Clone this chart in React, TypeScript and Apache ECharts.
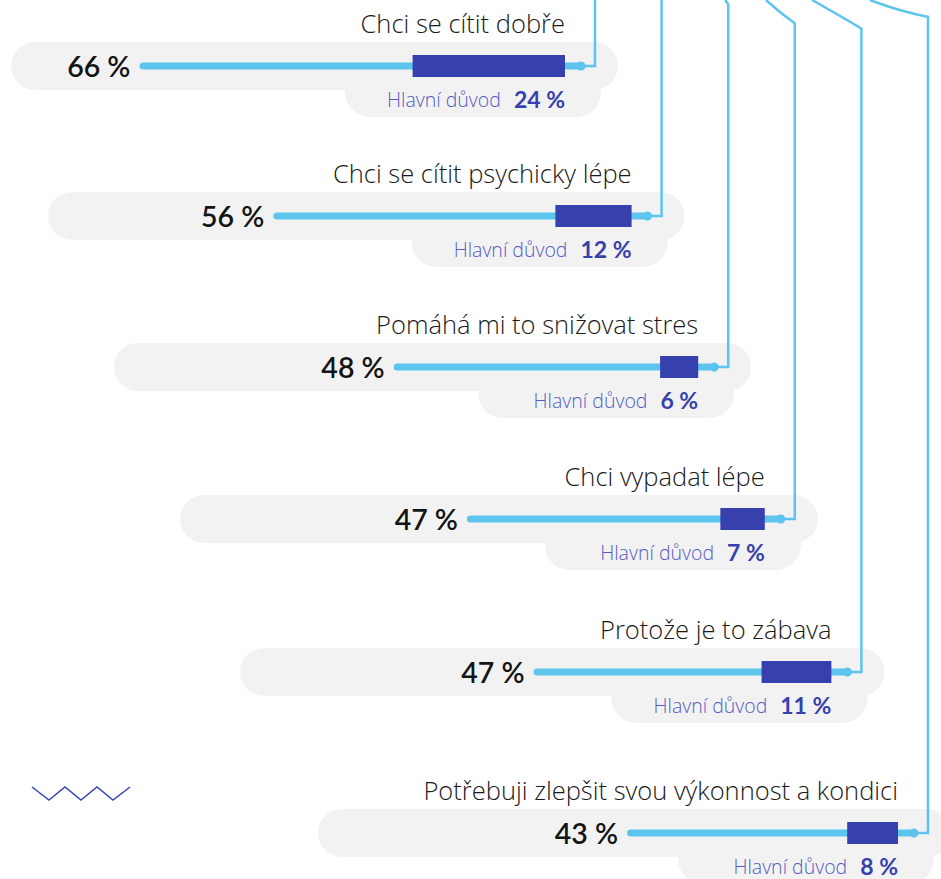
import React, { useEffect, useRef } from 'react';
import * as echarts from 'echarts';

// ---- data ----
const categories = [
  'Chci se cítit dobře',
  'Chci se cítit psychicky lépe',
  'Pomáhá mi to snižovat stres',
  'Chci vypadat lépe',
  'Protože je to zábava',
  'Potřebuji zlepšit svou výkonnost a kondici',
];
const allReasons = [66, 56, 48, 47, 47, 43];
const mainReasons = [24, 12, 6, 7, 11, 8];
const mainReasonLabel = 'Hlavní důvod';

// ---- layout ----
const W = 941;
const H = 879;
const ROW_Y = [66, 216, 367, 519, 672, 833];
const PILL_LEFT = [11, 48, 114, 180, 240, 318];
const LINE_END_0 = 583;
const LINE_STEP = 66.6;
const LINE_PX = 6.72;
const RECT_PX = 6.35;
const AXIS_MAX = 80;
const LIGHT = '#5dc4ee';
const DARK = '#3741ad';
const GREY = '#f2f2f2';
const FONT = 'Lato';
const FONT_LIGHT = 'Open Sans';
// top ends of connector lines for rows 3..6: [x0, y0, cpx, cpy, x1, y1]
const TOP_CURVES: (number[] | null)[] = [
  null,
  null,
  [725, 0, 727, 2, 728.6, 5],
  [766, 0, 779, 12, 795.6, 24],
  [812, 0, 829, 9.5, 862.2, 29],
  [870, 0, 900, 11.5, 928.8, 17],
];

export default function App() {
  const ref = useRef<HTMLDivElement>(null);
  useEffect(() => {
    const chart = echarts.init(ref.current!, null, { renderer: 'svg', width: W, height: H });
    const grid: any[] = [];
    const xAxis: any[] = [];
    const yAxis: any[] = [];
    const series: any[] = [];
    const pills: any[] = [];
    const lines: any[] = [];

    categories.forEach((cat, i) => {
      const cy = ROW_Y[i];
      const end = LINE_END_0 + LINE_STEP * i;
      const rectRight = end - 18;
      const connX = end + 12;

      pills.push({
        type: 'rect',
        shape: { x: PILL_LEFT[i], y: cy - 24, width: end + 35 - PILL_LEFT[i], height: 48, r: 24 },
        style: { fill: GREY },
      });
      pills.push({
        type: 'rect',
        shape: { x: rectRight - 220, y: cy - 10, width: 256, height: 61, r: 25 },
        style: { fill: GREY },
      });

      const curve = TOP_CURVES[i];
      const topY = curve ? curve[5] : 0;
      lines.push({
        type: 'polyline',
        shape: { points: [[connX, topY], [connX, cy], [end, cy]] },
        style: { stroke: LIGHT, lineWidth: 2.5, fill: 'none' },
      });
      if (curve) {
        lines.push({
          type: 'bezierCurve',
          shape: { x1: curve[0], y1: curve[1], cpx1: curve[2], cpy1: curve[3], x2: curve[4], y2: curve[5] },
          style: { stroke: LIGHT, lineWidth: 2.5, fill: 'none' },
        });
      }
      lines.push({
        type: 'circle',
        shape: { cx: end - 2, cy, r: 4.5 },
        style: { fill: LIGHT },
      });

      // grid for the full line
      const gl = grid.length;
      grid.push({ left: end - AXIS_MAX * LINE_PX, top: cy - 20, width: AXIS_MAX * LINE_PX, height: 40 });
      xAxis.push({ gridIndex: gl, type: 'value', min: 0, max: AXIS_MAX, inverse: true, show: false });
      yAxis.push({ gridIndex: gl, type: 'category', data: [cat], show: false });
      series.push({
        type: 'bar',
        xAxisIndex: gl,
        yAxisIndex: gl,
        data: [allReasons[i]],
        barWidth: 7,
        itemStyle: { color: LIGHT, borderRadius: 3.5 },
        label: {
          show: true,
          position: 'left',
          distance: 9,
          formatter: '{c} %',
          fontFamily: FONT,
          fontSize: 28.5,
          fontWeight: 600,
          color: '#141414',
        },
      });

      // grid for the main-reason block
      const gd = grid.length;
      grid.push({ left: rectRight - AXIS_MAX * RECT_PX, top: cy - 20, width: AXIS_MAX * RECT_PX, height: 40 });
      xAxis.push({ gridIndex: gd, type: 'value', min: 0, max: AXIS_MAX, inverse: true, show: false });
      yAxis.push({ gridIndex: gd, type: 'category', data: [cat], show: false });
      series.push({
        type: 'bar',
        xAxisIndex: gd,
        yAxisIndex: gd,
        data: [mainReasons[i]],
        barWidth: 22,
        itemStyle: { color: DARK },
        label: {
          show: true,
          position: ['100%', '50%'],
          align: 'right',
          verticalAlign: 'middle',
          offset: [0, -5],
          formatter: () => `{t|${cat}}\n{g| }\n{h|${mainReasonLabel}}{v|${mainReasons[i]} %}`,
          rich: {
            t: { fontFamily: FONT_LIGHT, fontSize: 25.5, fontWeight: 300, color: '#1a1a1a', lineHeight: 30 },
            g: { fontSize: 10, lineHeight: 46.5, height: 46.5 },
            h: { fontFamily: FONT_LIGHT, fontSize: 19.5, fontWeight: 300, color: '#555cc4', lineHeight: 30, padding: [0, 13, 0, 0] },
            v: { fontFamily: FONT, fontSize: 23, fontWeight: 700, color: DARK, lineHeight: 30 },
          },
        },
      });
    });

    const zigzag = {
      type: 'polyline',
      shape: { points: [[32, 787], [49, 800], [65, 787], [81, 800], [97, 787], [113, 800], [130, 787]] },
      style: { stroke: '#3a46b8', lineWidth: 1.5, fill: 'none' },
    };

    chart.setOption({
      animation: false,
      backgroundColor: '#ffffff',
      grid,
      xAxis,
      yAxis,
      series,
      graphic: { elements: [...pills, ...lines, zigzag] },
    });
    return () => chart.dispose();
  }, []);
  return <div ref={ref} style={{ position: 'absolute', left: 0, top: 0, width: W, height: H }} />;
}
